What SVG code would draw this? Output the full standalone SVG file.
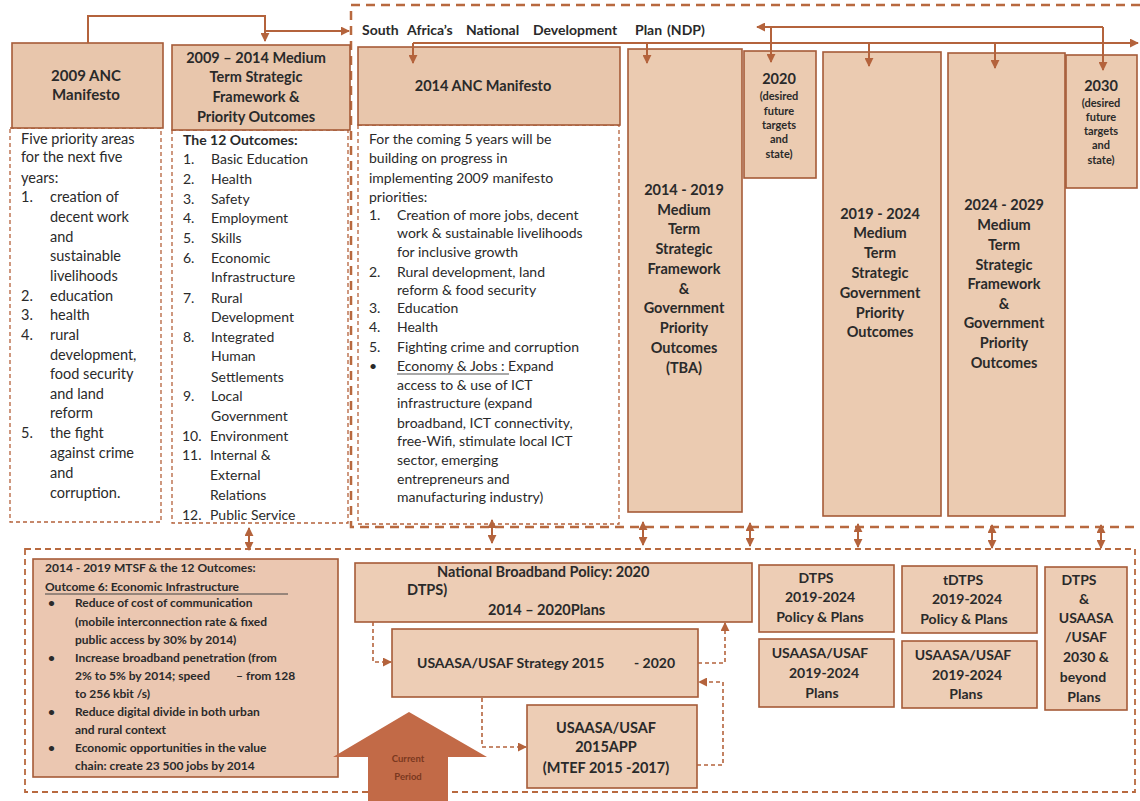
<svg xmlns="http://www.w3.org/2000/svg" width="1140" height="801" viewBox="0 0 1140 801">
<style>
.t{font-family:Lato,"Liberation Sans",sans-serif;fill:#2a2a2a}
.b{font-weight:bold}
.m{text-anchor:middle}
.hdr{fill:#E8C6AC;stroke:#A65B38;stroke-width:1.6}
.col{fill:#EBCBB1;stroke:#A65B38;stroke-width:1.6}
.low{fill:#EDCDB5;stroke:#A65B38;stroke-width:1.6}
.body{fill:#fff;stroke:#B4613B;stroke-width:1.3;stroke-dasharray:4 3}
.frame{fill:none;stroke:#B8693F;stroke-width:2.5;stroke-dasharray:9 6}
.frame2{fill:none;stroke:#B8693F;stroke-width:1.8;stroke-dasharray:6 4}
.ln{fill:none;stroke:#B4633C;stroke-width:2}
.dl{fill:none;stroke:#B4633C;stroke-width:1.6;stroke-dasharray:4 3}
.f14{font-size:14.5px}
.f14s{font-size:14px}
.f13{font-size:14px}
.fb{font-size:14.5px}
.f11{font-size:11px}
.f12{font-size:12px}
.f15{font-size:15px}
</style>
<defs>
<marker id="ah" viewBox="0 0 10 10" refX="9" refY="5" markerWidth="9" markerHeight="9" markerUnits="userSpaceOnUse" orient="auto-start-reverse">
<path d="M0,0 L10,5 L0,10 z" fill="#B4633C"/>
</marker>
</defs>
<rect width="1140" height="801" fill="#fff"/>

<!-- frames -->
<g id="frames">
<path class="frame" d="M1140,5 H351 V527 H1140"/>
<rect class="frame2" x="25" y="549" width="1110" height="243"/>
</g>

<!-- NDP title -->
<g id="ndp-title" class="t b f14s">
<text x="362" y="35">South</text>
<text x="407" y="35">Africa’s</text>
<text x="466" y="35">National</text>
<text x="533" y="35">Development</text>
<text x="635" y="35">Plan</text>
<text x="667" y="35">(NDP)</text>
</g>

<!-- node 1 -->
<g id="anc2009">
<rect class="body" x="10" y="128" width="151" height="394"/>
<rect class="hdr" x="12" y="43" width="151" height="85"/>
<text class="t b f15 m" x="86" y="81">2009 ANC</text>
<text class="t b f15 m" x="86" y="100">Manifesto</text>
<g class="t fb">
<text x="21" y="144">Five priority areas</text>
<text x="21" y="162">for the next five</text>
<text x="21" y="183">years:</text>
<text x="21" y="202">1.</text><text x="50" y="202">creation of</text>
<text x="50" y="222">decent work</text>
<text x="50" y="242">and</text>
<text x="50" y="261">sustainable</text>
<text x="50" y="281">livelihoods</text>
<text x="21" y="301">2.</text><text x="50" y="301">education</text>
<text x="21" y="320">3.</text><text x="50" y="320">health</text>
<text x="21" y="340">4.</text><text x="50" y="340">rural</text>
<text x="50" y="360">development,</text>
<text x="50" y="379">food security</text>
<text x="50" y="399">and land</text>
<text x="50" y="418">reform</text>
<text x="21" y="438">5.</text><text x="50" y="438">the fight</text>
<text x="50" y="458">against crime</text>
<text x="50" y="478">and</text>
<text x="50" y="498">corruption.</text>
</g>
</g>

<!-- node 2 -->
<g id="mtsf2009">
<rect class="body" x="172" y="130" width="176" height="393"/>
<rect class="hdr" x="172" y="45" width="178" height="85"/>
<g class="t b f14 m">
<text x="256" y="63">2009 – 2014 Medium</text>
<text x="256" y="82">Term Strategic</text>
<text x="256" y="102">Framework &amp;</text>
<text x="256" y="122">Priority Outcomes</text>
</g>
<g class="t f14s">
<text class="b" x="183" y="145">The 12 Outcomes:</text>
<text x="183" y="164">1.</text><text x="211" y="164">Basic Education</text>
<text x="183" y="184">2.</text><text x="211" y="184">Health</text>
<text x="183" y="204">3.</text><text x="211" y="204">Safety</text>
<text x="183" y="223">4.</text><text x="211" y="223">Employment</text>
<text x="183" y="243">5.</text><text x="211" y="243">Skills</text>
<text x="183" y="263">6.</text><text x="211" y="263">Economic</text>
<text x="211" y="282">Infrastructure</text>
<text x="183" y="303">7.</text><text x="211" y="303">Rural</text>
<text x="211" y="322">Development</text>
<text x="183" y="342">8.</text><text x="211" y="342">Integrated</text>
<text x="211" y="361">Human</text>
<text x="211" y="382">Settlements</text>
<text x="183" y="401">9.</text><text x="211" y="401">Local</text>
<text x="211" y="421">Government</text>
<text x="182" y="441">10.</text><text x="210" y="441">Environment</text>
<text x="182" y="460">11.</text><text x="210" y="460">Internal &amp;</text>
<text x="210" y="480">External</text>
<text x="210" y="500">Relations</text>
<text x="182" y="520">12.</text><text x="210" y="520">Public Service</text>
</g>
</g>

<!-- node 3 -->
<g id="anc2014">
<rect class="body" x="358" y="125" width="261" height="399"/>
<rect class="hdr" x="358" y="47" width="262" height="78"/>
<text class="t b f14 m" x="483" y="91">2014 ANC Manifesto</text>
<g class="t f13">
<text x="369" y="144">For the coming 5 years will be</text>
<text x="369" y="163">building on progress in</text>
<text x="369" y="183">implementing 2009 manifesto</text>
<text x="369" y="202">priorities:</text>
<text x="369" y="220">1.</text><text x="397" y="220">Creation of more jobs, decent</text>
<text x="397" y="238">work &amp; sustainable livelihoods</text>
<text x="397" y="257">for inclusive growth</text>
<text x="369" y="277">2.</text><text x="397" y="277">Rural development, land</text>
<text x="397" y="295">reform &amp; food security</text>
<text x="369" y="313">3.</text><text x="397" y="313">Education</text>
<text x="369" y="332">4.</text><text x="397" y="332">Health</text>
<text x="369" y="352">5.</text><text x="397" y="352">Fighting crime and corruption</text>
<text x="369" y="371">•</text><text x="397" y="371">Economy &amp; Jobs : Expand</text>
<text x="397" y="390">access to &amp; use of ICT</text>
<text x="397" y="408">infrastructure (expand</text>
<text x="397" y="428">broadband, ICT connectivity,</text>
<text x="397" y="446">free-Wifi, stimulate local ICT</text>
<text x="397" y="465">sector, emerging</text>
<text x="397" y="484">entrepreneurs and</text>
<text x="397" y="502">manufacturing industry)</text>
</g>
<line x1="397" y1="374" x2="509" y2="374" stroke="#555" stroke-width="1"/>
</g>

<!-- MTSF 2014-2019 -->
<g id="mtsf2014">
<rect class="col" x="628" y="49" width="114" height="463"/>
<g class="t b f14 m">
<text x="684" y="195">2014  - 2019</text>
<text x="684" y="215">Medium</text>
<text x="684" y="234">Term</text>
<text x="684" y="254">Strategic</text>
<text x="684" y="274">Framework</text>
<text x="684" y="294">&amp;</text>
<text x="684" y="313">Government</text>
<text x="684" y="333">Priority</text>
<text x="684" y="353">Outcomes</text>
<text x="684" y="373">(TBA)</text>
</g>
</g>

<g id="target2020">
<rect class="col" x="744" y="51" width="72" height="127"/>
<text class="t b f14 m" x="779" y="84">2020</text>
<g class="t b f11 m">
<text x="779" y="100">(desired</text>
<text x="779" y="115">future</text>
<text x="779" y="129">targets</text>
<text x="779" y="143">and</text>
<text x="779" y="158">state)</text>
</g>
</g>

<g id="mtsf2019">
<rect class="col" x="823" y="52" width="118" height="464"/>
<g class="t b f14 m">
<text x="880" y="219">2019  - 2024</text>
<text x="880" y="238">Medium</text>
<text x="880" y="258">Term</text>
<text x="880" y="278">Strategic</text>
<text x="880" y="298">Government</text>
<text x="880" y="318">Priority</text>
<text x="880" y="337">Outcomes</text>
</g>
</g>

<g id="mtsf2024">
<rect class="col" x="948" y="53" width="117" height="463"/>
<g class="t b f14 m">
<text x="1004" y="210">2024  - 2029</text>
<text x="1004" y="230">Medium</text>
<text x="1004" y="250">Term</text>
<text x="1004" y="270">Strategic</text>
<text x="1004" y="289">Framework</text>
<text x="1004" y="309">&amp;</text>
<text x="1004" y="328">Government</text>
<text x="1004" y="348">Priority</text>
<text x="1004" y="368">Outcomes</text>
</g>
</g>

<g id="target2030">
<rect class="col" x="1066" y="55" width="71" height="133"/>
<text class="t b f14 m" x="1101" y="91">2030</text>
<g class="t b f11 m">
<text x="1101" y="107">(desired</text>
<text x="1101" y="121">future</text>
<text x="1101" y="135">targets</text>
<text x="1101" y="149">and</text>
<text x="1101" y="164">state)</text>
</g>
</g>

<!-- bottom nodes -->
<g id="mtsf-outcome6">
<rect class="low" x="33" y="559" width="305" height="218" style="fill:#EBC7B1"/>
<g class="t b f12">
<text x="45" y="572">2014 - 2019    MTSF &amp; the 12 Outcomes:</text>
<text x="45" y="591">Outcome 6: Economic Infrastructure</text>
<text x="48" y="607">•</text><text x="75" y="607">Reduce of cost of communication</text>
<text x="75" y="626">(mobile interconnection rate &amp; fixed</text>
<text x="75" y="644">public access by 30% by 2014)</text>
<text x="48" y="662">•</text><text x="75" y="662">Increase broadband penetration (from</text>
<text x="75" y="680">2% to 5% by 2014; speed</text><text x="236" y="680">– from 128</text>
<text x="75" y="698">to 256   kbit /s)</text>
<text x="48" y="716">•</text><text x="75" y="716">Reduce digital divide in both urban</text>
<text x="75" y="734">and rural context</text>
<text x="48" y="752">•</text><text x="75" y="752">Economic opportunities in the value</text>
<text x="75" y="770">chain: create 23 500 jobs by 2014</text>
</g>
<line x1="45" y1="594" x2="288" y2="594" stroke="#444" stroke-width="1"/>
</g>

<g id="nbp">
<rect class="low" x="355" y="563" width="397" height="59"/>
<text class="t b fb" x="437" y="577">National Broadband Policy: 2020</text>
<text class="t b fb" x="407" y="595">DTPS)</text>
<text class="t b fb" x="488" y="615">2014 – 2020Plans</text>
</g>

<g id="usaf-strategy">
<rect class="low" x="392" y="629" width="306" height="68"/>
<text class="t b f14s" x="417" y="668">USAASA/USAF Strategy 2015</text>
<text class="t b f14s" x="634" y="668">- 2020</text>
</g>

<g id="usaf-app">
<rect class="low" x="527" y="705" width="170" height="83"/>
<g class="t b f14 m">
<text x="606" y="733">USAASA/USAF</text>
<text x="606" y="752">2015APP</text>
<text x="606" y="773">(MTEF 2015  -2017)</text>
</g>
</g>

<g id="dtps2019">
<rect class="low" x="759" y="565" width="135" height="67"/>
<g class="t b f13 m">
<text x="816" y="583">DTPS</text>
<text x="820" y="602">2019-2024</text>
<text x="820" y="622">Policy &amp; Plans</text>
</g>
</g>
<g id="usaf2019a">
<rect class="low" x="759" y="639" width="135" height="68"/>
<g class="t b f13 m">
<text x="820" y="658">USAASA/USAF</text>
<text x="824" y="678">2019-2024</text>
<text x="822" y="698">Plans</text>
</g>
</g>
<g id="tdtps2019">
<rect class="low" x="902" y="566" width="135" height="67"/>
<g class="t b f13 m">
<text x="963" y="585">tDTPS</text>
<text x="967" y="604">2019-2024</text>
<text x="964" y="624">Policy &amp; Plans</text>
</g>
</g>
<g id="usaf2019b">
<rect class="low" x="902" y="641" width="135" height="67"/>
<g class="t b f13 m">
<text x="963" y="660">USAASA/USAF</text>
<text x="967" y="680">2019-2024</text>
<text x="966" y="699">Plans</text>
</g>
</g>
<g id="dtps2030">
<rect class="low" x="1045" y="567" width="82" height="143"/>
<g class="t b f13 m">
<text x="1079" y="585">DTPS</text>
<text x="1084" y="604">&amp;</text>
<text x="1086" y="623">USAASA</text>
<text x="1086" y="642">/USAF</text>
<text x="1086" y="662">2030 &amp;</text>
<text x="1083" y="682">beyond</text>
<text x="1084" y="702">Plans</text>
</g>
</g>

<g id="current-period">
<polygon points="409,712 487,757 448,757 448,801 368,801 368,757 333,757" fill="#C26A47"/>
<text class="t b m" x="408" y="762" style="font-size:9.5px;fill:#7A3820">Current</text>
<text class="t b m" x="408" y="780" style="font-size:9.5px;fill:#7A3820">Period</text>
</g>

<!-- connectors -->
<g id="connectors">
<path class="ln" d="M88,43 V16 H265 V41" marker-end="url(#ah)"/>
<path class="ln" d="M265,31 H349" marker-end="url(#ah)"/>
<path class="ln" d="M413,43 H1138" marker-end="url(#ah)"/>
<path class="ln" d="M413,43 V63" marker-end="url(#ah)"/>
<path class="ln" d="M647,43 V63" marker-end="url(#ah)"/>
<path class="ln" d="M869,43 V66" marker-end="url(#ah)"/>
<path class="ln" d="M995,43 V68" marker-end="url(#ah)"/>
<path class="ln" d="M1103,27 H757" marker-end="url(#ah)"/>
<path class="ln" d="M771,27 V62" marker-end="url(#ah)"/>
<path class="ln" d="M1103,27 V70" marker-end="url(#ah)"/>
<path class="ln" d="M249,528 V550" marker-start="url(#ah)" marker-end="url(#ah)"/>
<path class="ln" d="M492,520 V543" marker-start="url(#ah)" marker-end="url(#ah)"/>
<path class="ln" d="M643,522 V545" marker-start="url(#ah)" marker-end="url(#ah)"/>
<path class="ln" d="M750,523 V546" marker-start="url(#ah)" marker-end="url(#ah)"/>
<path class="ln" d="M858,524 V547" marker-start="url(#ah)" marker-end="url(#ah)"/>
<path class="ln" d="M992,525 V548" marker-start="url(#ah)" marker-end="url(#ah)"/>
<path class="ln" d="M1101,525 V548" marker-start="url(#ah)" marker-end="url(#ah)"/>
<path class="dl" d="M373,622 V662 H391" marker-end="url(#ah)"/>
<path class="dl" d="M482,698 V747 H526" marker-end="url(#ah)"/>
<path class="dl" d="M698,663 H725 V623" marker-end="url(#ah)"/>
<path class="dl" d="M697,765 H723 V682 H699" marker-end="url(#ah)"/>
</g>
</svg>
